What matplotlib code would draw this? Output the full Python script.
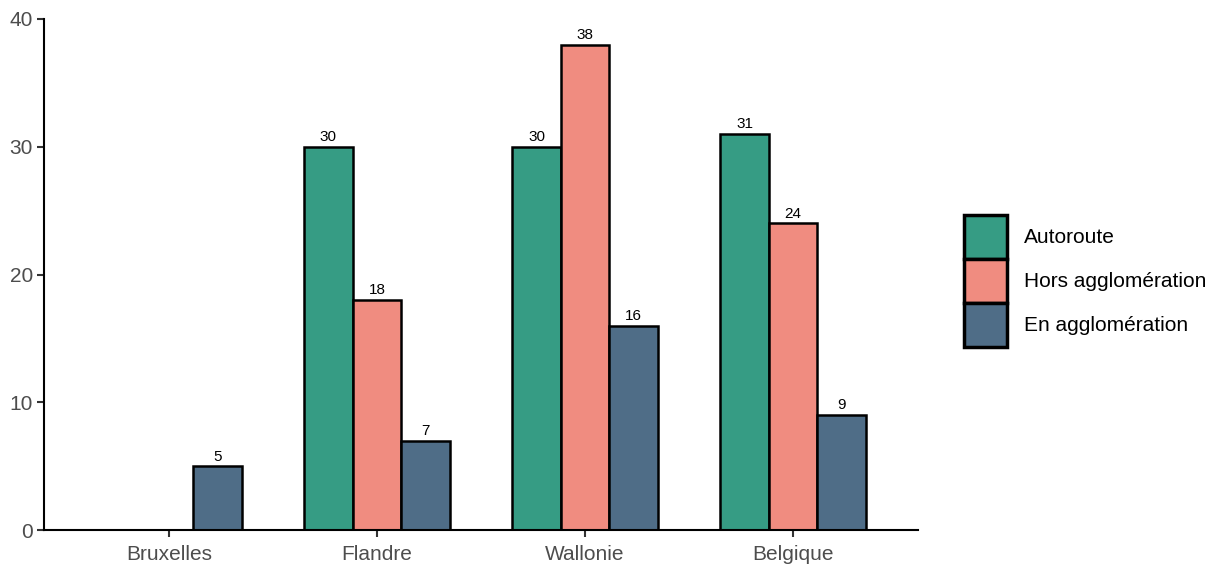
import numpy as np
import matplotlib
matplotlib.use("Agg")
import matplotlib.pyplot as plt
from matplotlib.patches import Patch

plt.rcParams['font.family'] = ['Liberation Sans', 'DejaVu Sans']

regions = ["Bruxelles", "Flandre", "Wallonie", "Belgique"]
series = ["Autoroute", "Hors agglomération", "En agglomération"]
autoroute = [np.nan, 30, 30, 31]
hors_agglo = [0, 18, 38, 24]
en_agglo = [5, 7, 16, 9]
colors = ["#369C84", "#F08C80", "#4F6D87"]

values = [autoroute, hors_agglo, en_agglo]

fig = plt.figure(figsize=(12.1, 5.66), dpi=100)
ax = fig.add_axes([44 / 1210, 36 / 566, (918 - 44) / 1210, (530 - 19) / 566])

x = np.arange(len(regions))
width = 0.7 / 3
for i, (name, vals, col) in enumerate(zip(series, values, colors)):
    offs = (i - 1) * width
    for xi, v in zip(x, vals):
        if np.isnan(v):
            continue
        ax.bar(xi + offs, v, width=width, color=col, edgecolor="black",
               linewidth=1.8, zorder=2)
        if v > 0:
            ax.text(xi + offs, v + 0.2, f"{v:g}", ha="center", va="bottom",
                    fontsize=11, color="black")

ax.set_xlim(-0.6, len(regions) - 1 + 0.6)
ax.set_ylim(0, 40)
ax.set_xticks(x)
ax.set_xticklabels(regions)
ax.set_yticks([0, 10, 20, 30, 40])
ax.tick_params(axis="both", labelsize=15, labelcolor="#4D4D4D",
               color="#333333", length=5, width=1.5, pad=3)
ax.tick_params(axis="x", pad=5.5)
for side in ("top", "right"):
    ax.spines[side].set_visible(False)
for side in ("left", "bottom"):
    ax.spines[side].set_linewidth(1.5)
    ax.spines[side].set_color("black")

handles = [Patch(facecolor=c, edgecolor="black", linewidth=2.5) for c in colors]
fig.legend(handles, series, loc="center left", bbox_to_anchor=(956 / 1210, 1 - 281 / 566),
           frameon=False, fontsize=15, handlelength=2.05, handleheight=2.88,
           handletextpad=0.8, labelspacing=0.0, borderaxespad=0)

fig.savefig("out.png", dpi=100)
